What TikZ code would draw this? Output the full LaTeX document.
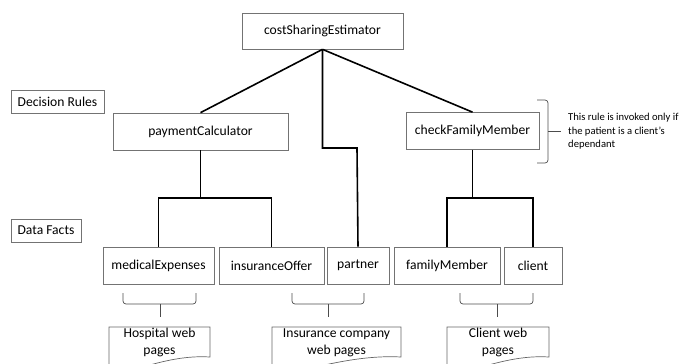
\documentclass[tikz,border=0pt]{standalone}
\usepackage{fontspec}
\setmainfont{Carlito}
\begin{document}
\begin{tikzpicture}[x=1pt,y=-1pt,
  box/.style={draw=black!55,line width=0.7pt,fill=white,inner sep=0pt,anchor=center,font=\fontsize{13.6}{16}\selectfont},
  conn/.style={line width=1.6pt,black},
  brc/.style={draw=black!70,line width=0.7pt,rounded corners=3pt},
  doc/.style={draw=black!60,line width=0.7pt},
  doctext/.style={align=center,inner sep=0pt,font=\fontsize{13.6}{17}\selectfont},
  note/.style={align=left,anchor=north west,inner sep=0pt,font=\fontsize{10.6}{13.5}\selectfont}]
\useasboundingbox (0,0) rectangle (680,364);
\clip (0,0) rectangle (680,364);
% decision nodes
\node[box,minimum width=161pt,minimum height=36pt] (cse) at (322.5,31) {costSharingEstimator};
\node[box,minimum width=93pt,minimum height=23pt] (dr) at (57.5,101.5) {Decision Rules};
\node[box,minimum width=175pt,minimum height=37pt] (pc) at (200.5,131.5) {paymentCalculator};
\node[box,minimum width=133pt,minimum height=37pt] (cfm) at (472.5,131) {checkFamilyMember};
\node[box,minimum width=70pt,minimum height=23pt] (df) at (46,230.5) {Data Facts};
% data facts
\node[box,minimum width=111pt,minimum height=37pt] (med) at (158.5,265.5) {medicalExpenses};
\node[box,minimum width=105pt,minimum height=37pt] (ins) at (271.5,265.5) {insuranceOffer};
\node[box,minimum width=62pt,minimum height=37pt] (par) at (358,265.5) {partner};
\node[box,minimum width=106pt,minimum height=37pt] (fm) at (447,265.5) {familyMember};
\node[box,minimum width=58pt,minimum height=37pt] (cli) at (533,265.5) {client};
% connectors
\draw[conn] (cse.south) -- (pc.north);
\draw[conn] (cse.south) -- (cfm.north);
\coordinate (mj) at (357,148);
\draw[conn] (cse.south) |- (mj) -- (par.north);
\coordinate (pj) at (200,198);
\draw[conn] (pc.south) -- (pc.south |- pj);
\draw[conn] (med.north) -- (med.north |- pj) -- (ins.north |- pj) -- (ins.north);
\coordinate (cj) at (472,198);
\draw[conn] (cfm.south) -- (cfm.south |- cj);
\draw[conn] (fm.north) -- (fm.north |- cj) -- (cli.north |- cj) -- (cli.north);
% side brace and note
\draw[brc] (537,100) -| (548,131) |- (537,163);
\draw[draw=black!70,line width=0.7pt] (548,131) -- (561,131);
\node[note] (nt) at (568,113) {This rule is invoked only if\\the patient is a client’s\\dependant};
% bottom braces
\draw[brc] (123,293) |- (160,304) -| (196,293);
\draw[draw=black!70,line width=0.7pt] (160,304) -- (160,317);
\draw[brc] (292,293) |- (328,304) -| (364,293);
\draw[draw=black!70,line width=0.7pt] (328,304) -- (328,317);
\draw[brc] (460,293) |- (497,304) -| (533,293);
\draw[draw=black!70,line width=0.7pt] (497,304) -- (497,317);
% documents
\draw[doc] (109,378) -- (109,327) -- (210,327) -- (210,357) .. controls (180,355) and (150,364) .. (109,378);
\node[doctext] (hosp) at (159.5,342.5) {Hospital web\\pages};
\draw[doc] (272,378) -- (272,327) -- (401,327) -- (401,357) .. controls (363,355) and (325,364) .. (272,378);
\node[doctext] (insd) at (336.5,342.5) {Insurance company\\web pages};
\draw[doc] (447,378) -- (447,327) -- (549,327) -- (549,357) .. controls (519,355) and (489,364) .. (447,378);
\node[doctext] (clid) at (498,342.5) {Client web\\pages};
\end{tikzpicture}
\end{document}
